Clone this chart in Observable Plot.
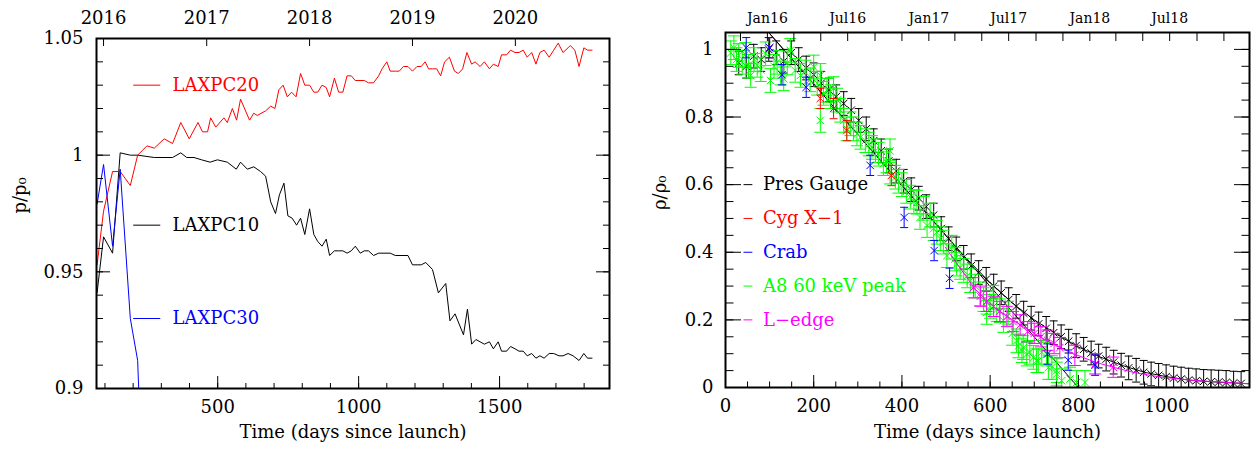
<!DOCTYPE html>
<html><head><meta charset="utf-8">
<script src="https://cdn.jsdelivr.net/npm/d3@7"></script>
<script src="https://cdn.jsdelivr.net/npm/@observablehq/plot@0.6"></script>
<style>
body{margin:0;background:#fff;}
#wrap{display:flex;width:1255px;height:450px;overflow:hidden;}
#wrap svg, #wrap svg text{font-family:"DejaVu Serif","Liberation Serif",serif !important;}
</style></head><body><div id="wrap"></div>
<script>
// ---------- LEFT PANEL DATA: [days since launch, p/p0] ----------
const laxpc10 = [[72,0.941],[95,0.965],[127,0.958],[154,1.001],[190,1.000],[216,1.000],[275,0.999],[340,0.999],[369,1.001],[390,0.999],[416,0.999],[443,0.998],[473,0.997],[499,0.998],[534,0.997],[566,0.994],[581,0.997],[605,0.994],[628,0.995],[652,0.993],[670,0.991],[688,0.980],[705,0.975],[719,0.983],[735,0.988],[749,0.974],[764,0.973],[780,0.970],[794,0.973],[809,0.966],[826,0.977],[841,0.966],[855,0.963],[870,0.961],[885,0.964],[897,0.957],[914,0.959],[929,0.959],[944,0.959],[959,0.958],[974,0.959],[988,0.961],[1006,0.958],[1020,0.959],[1035,0.959],[1053,0.957],[1071,0.958],[1112,0.958],[1130,0.957],[1175,0.957],[1191,0.953],[1222,0.953],[1238,0.954],[1262,0.951],[1283,0.941],[1309,0.945],[1324,0.929],[1342,0.932],[1372,0.923],[1386,0.934],[1401,0.919],[1416,0.921],[1446,0.919],[1464,0.920],[1478,0.917],[1495,0.920],[1507,0.916],[1525,0.916],[1539,0.918],[1555,0.917],[1569,0.916],[1584,0.916],[1598,0.914],[1614,0.915],[1629,0.913],[1643,0.914],[1658,0.913],[1676,0.915],[1692,0.915],[1711,0.914],[1725,0.914],[1743,0.915],[1761,0.914],[1782,0.912],[1799,0.915],[1812,0.913],[1828,0.913]];
const laxpc20 = [[72,0.953],[95,0.976],[127,0.993],[154,0.993],[190,0.987],[216,1.000],[249,1.004],[275,1.003],[310,1.007],[340,1.005],[369,1.014],[399,1.007],[430,1.014],[446,1.010],[464,1.010],[475,1.016],[493,1.012],[522,1.016],[534,1.014],[552,1.020],[567,1.015],[581,1.024],[613,1.015],[628,1.018],[640,1.017],[670,1.019],[688,1.021],[703,1.020],[717,1.028],[732,1.030],[747,1.025],[762,1.027],[778,1.025],[794,1.035],[809,1.030],[826,1.030],[841,1.027],[855,1.027],[870,1.030],[885,1.029],[897,1.025],[914,1.033],[929,1.027],[944,1.027],[959,1.034],[974,1.034],[988,1.032],[1020,1.032],[1035,1.031],[1053,1.031],[1071,1.034],[1083,1.037],[1100,1.040],[1112,1.036],[1130,1.036],[1144,1.036],[1159,1.038],[1175,1.038],[1191,1.036],[1207,1.038],[1222,1.038],[1236,1.040],[1248,1.037],[1262,1.037],[1277,1.037],[1291,1.034],[1305,1.040],[1322,1.042],[1340,1.036],[1354,1.035],[1369,1.037],[1384,1.044],[1401,1.039],[1413,1.040],[1431,1.038],[1446,1.040],[1464,1.037],[1478,1.039],[1495,1.038],[1507,1.043],[1525,1.043],[1539,1.045],[1555,1.044],[1569,1.044],[1584,1.045],[1598,1.042],[1614,1.044],[1629,1.039],[1643,1.044],[1658,1.045],[1676,1.042],[1692,1.045],[1708,1.048],[1725,1.044],[1743,1.046],[1751,1.047],[1767,1.045],[1782,1.038],[1799,1.046],[1812,1.045],[1828,1.045]];
const laxpc30 = [[72,0.979],[95,0.996],[127,0.961],[154,0.994],[190,0.930],[216,0.912],[232,0.860]];
const leftSeriesNames = ["LAXPC20","LAXPC10","LAXPC30"];
const leftSeriesColors = ["#ff0000","#000000","#0000ff"];
const leftYTickLabels = ["0.9","0.95","1","1.05"];
const leftYTicks = [0.9,0.95,1,1.05];
const leftXTicks = [500,1000,1500];
const leftTopLabels = ["2016","2017","2018","2019","2020"];
const leftTopDates = ["2016-01-01","2017-01-01","2018-01-01","2019-01-01","2020-01-01"];

// ---------- RIGHT PANEL DATA: [days since launch, rho/rho0] ----------
const presGauge = [[30,0.96],[47,0.95],[64,0.98],[81,0.97],[98,1.0],[115,0.99],[132,0.965],[149,0.99],[166,0.97],[183,0.945],[200,0.925],[217,0.9],[234,0.88],[251,0.86],[268,0.84],[285,0.82],[302,0.79],[319,0.765],[336,0.73],[353,0.7],[370,0.67],[387,0.64],[404,0.61],[421,0.585],[438,0.56],[455,0.535],[472,0.51],[489,0.47],[506,0.44],[523,0.41],[540,0.385],[557,0.36],[574,0.34],[591,0.32],[608,0.3],[625,0.28],[642,0.26],[659,0.24],[676,0.22],[693,0.205],[710,0.188],[727,0.175],[744,0.162],[761,0.15],[778,0.137],[795,0.124],[812,0.113],[829,0.102],[846,0.093],[863,0.084],[880,0.075],[897,0.066],[914,0.058],[931,0.051],[948,0.045],[965,0.04],[982,0.036],[999,0.032],[1016,0.028],[1033,0.025],[1050,0.022],[1067,0.02],[1084,0.018],[1101,0.017],[1118,0.016],[1135,0.015],[1152,0.013],[1169,0.012]];
const presGaugeErr = 0.035;
const pgLinearFit = [[98,1.05],[800,0]];
const pgModel = [[98,1.05],[540,0.39],[600,0.31],[650,0.25],[700,0.2],[750,0.158],[800,0.12],[850,0.09],[900,0.065],[950,0.045],[1000,0.032],[1050,0.022],[1100,0.017],[1188,0.011]];
const cygX1 = [[100,1.005],[215,0.855],[245,0.825],[275,0.76],[376,0.627]];
const cygX1Err = 0.03;
const crab = [[47,1.005],[100,1.005],[128,0.925],[183,0.888],[328,0.657],[405,0.503],[473,0.405],[508,0.323],[730,0.099],[777,0.081],[838,0.066]];
const crabErr = 0.03;
const a8peak = [[12,0.99],[19,1.005],[25,0.97],[30,0.982],[38,0.962],[45,0.985],[52,0.95],[57,0.923],[65,0.97],[72,0.953],[80,0.94],[91,0.987],[102,0.908],[110,0.95],[117,0.962],[125,0.93],[132,0.913],[140,0.96],[147,0.997],[158,0.938],[170,0.923],[181,0.933],[192,0.91],[200,0.948],[208,0.9],[215,0.923],[215,0.79],[222,0.87],[230,0.879],[238,0.86],[245,0.884],[253,0.85],[260,0.82],[268,0.79],[275,0.765],[283,0.78],[290,0.765],[298,0.75],[306,0.74],[317,0.73],[325,0.72],[332,0.71],[340,0.7],[347,0.69],[358,0.662],[365,0.67],[373,0.7],[373,0.637],[385,0.622],[392,0.61],[400,0.6],[410,0.58],[419,0.563],[427,0.55],[434,0.548],[441,0.503],[449,0.53],[457,0.479],[464,0.51],[472,0.47],[479,0.459],[487,0.44],[494,0.43],[502,0.39],[513,0.415],[520,0.38],[524,0.365],[532,0.355],[540,0.346],[548,0.33],[555,0.316],[566,0.3],[577,0.277],[585,0.26],[592,0.252],[592,0.222],[600,0.24],[607,0.267],[615,0.23],[622,0.227],[630,0.198],[641,0.22],[650,0.16],[660,0.138],[664,0.123],[672,0.109],[675,0.118],[683,0.099],[690,0.104],[698,0.089],[705,0.079],[709,0.079],[717,0.104],[728,0.099],[732,0.059],[740,0.059],[751,0.05],[751,0.04],[762,0.02],[781,0.025],[796,0.015],[815,0.015]];
const a8peakErr = 0.035;
const lEdge = [[562,0.295],[578,0.27],[592,0.255],[608,0.24],[622,0.225],[638,0.21],[652,0.195],[668,0.185],[685,0.165],[700,0.16],[715,0.15],[730,0.14],[745,0.13],[758,0.118],[792,0.095],[838,0.07],[879,0.06]];
const lEdgeErr = 0.03;
const lEdgeModel = [[498,0.415],[566,0.291],[611,0.235],[668,0.185],[713,0.15],[751,0.123],[789,0.1],[838,0.075],[879,0.06],[924,0.045],[985,0.031],[1060,0.021],[1188,0.011]];
const rightSeriesNames = ["Pres Gauge","Cyg X\u22121","Crab","A8 60 keV peak","L\u2212edge"];
const rightSeriesColors = ["#000000","#ff0000","#0000ff","#00ff00","#ff00ff"];
const rightYTicks = [0,0.2,0.4,0.6,0.8,1];
const rightYTickLabels = ["0","0.2","0.4","0.6","0.8","1"];
const rightXTicks = [0,200,400,600,800,1000];
const rightTopLabels = ["Jan16","Jul16","Jan17","Jul17","Jan18","Jul18"];
const rightTopDates = ["2016-01-01","2016-07-01","2017-01-01","2017-07-01","2018-01-01","2018-07-01"];

// ---------- helpers ----------
const launch = Date.UTC(2015, 8, 28);
const dayOf = s => (Date.parse(s) - launch) / 864e5;
const X = d => d[0], Y = d => d[1];
const FONT = "'DejaVu Serif', 'Liberation Serif', serif";
const NOTXT = () => "";
const capSymbol = {draw(ctx, size) { const r = Math.sqrt(size / Math.PI); ctx.moveTo(-r, 0); ctx.lineTo(r, 0); }};
const OPP = {left: "right", right: "left", top: "bottom", bottom: "top"};

function errMarks(data, err, color, capR) {
  return [
    Plot.ruleX(data, {x: X, y1: d => d[1] - err, y2: d => d[1] + err, stroke: color, strokeWidth: 1, clip: true}),
    Plot.dot(data, {x: X, y: d => d[1] + err, symbol: capSymbol, r: capR, stroke: color, strokeWidth: 1, clip: true}),
    Plot.dot(data, {x: X, y: d => d[1] - err, symbol: capSymbol, r: capR, stroke: color, strokeWidth: 1, clip: true}),
    Plot.dot(data, {x: X, y: Y, symbol: "times", r: 3.5, stroke: color, strokeWidth: 1, clip: true})
  ];
}
// inward ticks: draw the opposite-facing tick shape, anchored at the given frame side
function tickAxisY(values, side, size) {
  return Plot.axisY(values, {anchor: OPP[side], frameAnchor: side, tickSize: size, tickFormat: NOTXT, label: null});
}
function tickAxisX(values, side, size) {
  return Plot.axisX(values, {anchor: OPP[side], frameAnchor: side, tickSize: size, tickFormat: NOTXT, label: null});
}

// ---------- LEFT PLOT ----------
const lYMinor = d3.range(0.91, 1.045, 0.01).map(v => +v.toFixed(2));
const lXMinor = d3.range(100, 1900, 100);
const lTopDays = leftTopDates.map(dayOf);
const lLegY = [1.03, 0.97, 0.93];

const left = Plot.plot({
  width: 627, height: 450,
  marginLeft: 96, marginRight: 18, marginTop: 38, marginBottom: 62,
  x: {domain: [70, 1890], axis: null},
  y: {domain: [0.9, 1.05], axis: null},
  style: {fontFamily: FONT, fontSize: "18px", color: "black", background: "white", overflow: "visible"},
  marks: [
    Plot.line(laxpc10, {x: X, y: Y, stroke: leftSeriesColors[1], strokeWidth: 1, clip: true}),
    Plot.line(laxpc20, {x: X, y: Y, stroke: leftSeriesColors[0], strokeWidth: 1, clip: true}),
    Plot.line(laxpc30, {x: X, y: Y, stroke: leftSeriesColors[2], strokeWidth: 1, clip: true}),
    // legend
    Plot.ruleY(leftSeriesNames, {y: (d, i) => lLegY[i], x1: 202, x2: 298, stroke: (d, i) => leftSeriesColors[i], strokeWidth: 1}),
    Plot.text(leftSeriesNames, {x: 340, y: (d, i) => lLegY[i], text: d => d, fill: (d, i) => leftSeriesColors[i], textAnchor: "start", fontSize: 18}),
    // ticks
    tickAxisY(lYMinor, "left", 6),
    tickAxisY(lYMinor, "right", 6),
    tickAxisY(leftYTicks, "left", 13),
    tickAxisY(leftYTicks, "right", 13),
    Plot.axisY(leftYTicks, {anchor: "left", tickSize: 0, tickPadding: 13, tickFormat: (d) => leftYTickLabels[leftYTicks.indexOf(d)], label: null}),
    tickAxisX(lXMinor, "bottom", 6),
    tickAxisX(leftXTicks, "bottom", 13),
    Plot.axisX(leftXTicks, {anchor: "bottom", tickSize: 0, tickPadding: 12, tickFormat: d => String(d), label: null}),
    tickAxisX(lTopDays, "top", 8),
    Plot.axisX(lTopDays, {anchor: "top", tickSize: 0, tickPadding: 15, tickFormat: d => leftTopLabels[lTopDays.indexOf(d)], label: null}),
    Plot.frame({strokeWidth: 2}),
    Plot.text(["Time (days since launch)"], {text: d => d, frameAnchor: "bottom", dy: 49, letterSpacing: 2.2}),
    Plot.text(["p/p\u2080"], {text: d => d, frameAnchor: "left", dx: -76, rotate: -90, letterSpacing: 1})
  ]
});

// ---------- RIGHT PLOT ----------
const rYMinor = d3.range(0.05, 1.05, 0.05).map(v => +v.toFixed(2));
const rXMinor = d3.range(50, 1188, 50);
const rTopTicks = d3.utcMonth.every(2).range(new Date(Date.UTC(2015, 9, 1)), new Date(Date.UTC(2019, 0, 1))).map(d => (d - launch) / 864e5);
const rTopDays = rightTopDates.map(dayOf);
const rLegY = rightSeriesNames.map((d, i) => 0.6 - 0.1 * i);

const right = Plot.plot({
  width: 628, height: 450,
  marginLeft: 98, marginRight: 6, marginTop: 32, marginBottom: 63,
  x: {domain: [0, 1188], axis: null},
  y: {domain: [0, 1.05], axis: null},
  style: {fontFamily: FONT, fontSize: "18px", color: "black", background: "white", overflow: "visible"},
  marks: [
    ...errMarks(presGauge, presGaugeErr, rightSeriesColors[0], 4),
    Plot.line(pgLinearFit, {x: X, y: Y, stroke: "#000", strokeWidth: 1, clip: true}),
    Plot.line(pgModel, {x: X, y: Y, stroke: "#000", strokeWidth: 1, clip: true}),
    ...errMarks(a8peak, a8peakErr, rightSeriesColors[3], 6),
    ...errMarks(lEdge, lEdgeErr, rightSeriesColors[4], 6),
    Plot.line(lEdgeModel, {x: X, y: Y, stroke: rightSeriesColors[4], strokeWidth: 1, clip: true}),
    ...errMarks(cygX1, cygX1Err, rightSeriesColors[1], 4),
    ...errMarks(crab, crabErr, rightSeriesColors[2], 4),
    // legend
    Plot.ruleY(rightSeriesNames, {y: (d, i) => rLegY[i], x1: 42, x2: 62, stroke: (d, i) => rightSeriesColors[i], strokeWidth: 1}),
    Plot.text(rightSeriesNames, {x: 85, y: (d, i) => rLegY[i], text: d => d, fill: (d, i) => rightSeriesColors[i], textAnchor: "start", letterSpacing: 1.8}),
    // ticks
    tickAxisY(rYMinor, "left", 7.5),
    tickAxisY(rYMinor, "right", 7.5),
    tickAxisY(rightYTicks, "left", 15),
    tickAxisY(rightYTicks, "right", 15),
    Plot.axisY(rightYTicks, {anchor: "left", tickSize: 0, tickPadding: 12, tickFormat: d => rightYTickLabels[rightYTicks.indexOf(d)], label: null}),
    tickAxisX(rXMinor, "bottom", 6.5),
    tickAxisX(rightXTicks, "bottom", 13),
    Plot.axisX(rightXTicks, {anchor: "bottom", tickSize: 0, tickPadding: 12, tickFormat: d => String(d), label: null}),
    tickAxisX(rTopTicks, "top", 9),
    Plot.axisX(rTopDays, {anchor: "top", tickSize: 0, tickPadding: 10, fontSize: 14, tickFormat: d => rightTopLabels[rTopDays.indexOf(d)], label: null}),
    Plot.frame({strokeWidth: 2}),
    Plot.text(["Time (days since launch)"], {text: d => d, frameAnchor: "bottom", dy: 50, letterSpacing: 2.2}),
    Plot.text(["\u03c1/\u03c1\u2080"], {text: d => d, frameAnchor: "left", dx: -65, rotate: -90, letterSpacing: 1})
  ]
});

const wrap = document.getElementById("wrap");
wrap.appendChild(left);
wrap.appendChild(right);
</script>
</body></html>
